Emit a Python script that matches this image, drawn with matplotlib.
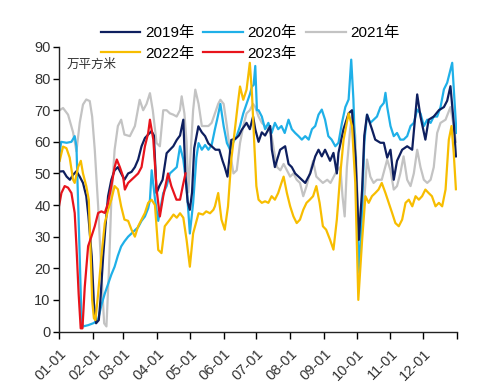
import numpy as np
import pandas as pd
import matplotlib
matplotlib.use("Agg")
import matplotlib.pyplot as plt
from matplotlib.transforms import ScaledTranslation

plt.rcParams['font.family'] = ['Liberation Sans', 'Noto Sans CJK SC', 'DejaVu Sans']

# ---- data (day of year, value in 万平方米) ----
days_2019 = [0, 4, 7, 10, 13, 16, 19, 22, 25, 27, 30, 32, 34, 36.5, 38, 40.5, 42.6, 45, 48, 51, 54, 57, 60, 63.4, 66.5, 69.6, 72.6, 75.7, 78.8, 81.8, 84.9, 87,
             89.5, 92, 95, 98.7, 101.7, 104.8, 108, 111, 114, 116, 118, 120, 122, 124, 127.8, 131, 134, 137, 140, 143.5, 147, 150, 152, 154.5, 158, 162, 165, 167.6, 172, 175, 178, 180,
             183, 186, 189, 193.7, 195.2, 198, 202.8, 207.4, 210.5, 213.5, 216.6, 222.7, 225.8, 230.4, 235, 238, 241, 244, 248.6, 251.7, 254.8, 256.3, 260.9, 265.6, 268.7,
             272, 275, 278, 280, 282.5, 287, 290, 294.8, 297.9, 301, 304, 307, 310, 314.7, 319.3, 323.9, 328.5, 331.5, 336, 339, 343.7, 348.4, 353, 356, 359, 362, 364]
vals_2019 = [50.6, 50.7, 49, 48, 49.6, 50.7, 49, 47, 42.8, 36.4, 23.8, 9, 2.6, 3.6, 10, 23.8, 33.3, 42.8, 48, 51, 52, 50, 48, 50, 50.5, 52, 54.4, 58.6, 61.2, 62.3, 63.4, 62,
             43.8, 46, 48, 56.4, 57.5, 58.6, 60.6, 62, 67, 49, 41, 38.5, 44, 58, 64.9, 63, 61.8, 59.5, 58.6, 57.5, 57.5, 54, 52, 49, 60.6, 61, 62, 63.8, 66, 64, 68, 64,
             60, 63, 62, 65, 57.5, 52, 57.5, 58.6, 53, 52, 50, 48, 47, 50, 55.4, 57.5, 55.4, 57.5, 54, 56.5, 50, 56.5, 64, 69, 70,
             55, 29, 45, 62, 68.6, 64, 60.7, 59.7, 59.7, 55, 57.5, 48, 54, 57.5, 58.6, 57.5, 75, 68, 60.7, 67, 68, 70, 71, 73, 77.6, 66, 55.4]

days_2020 = [0, 2, 7, 11.4, 14.4, 16, 17.5, 19, 20.6, 22, 26.7, 31.3, 34.3, 36, 39, 42, 45, 48, 51, 54, 57, 60, 63.4, 66.5, 69.6, 72.6, 75.7, 78.8, 81.8, 83.4, 85, 88,
             91, 95.6, 98.7, 101.7, 104.8, 108, 111, 114, 117, 120, 123, 126, 128, 131, 134, 137, 140, 143, 145, 148, 151, 154, 157, 160, 163, 166, 169, 172, 175, 177, 178.5, 180, 181.5,
             183, 186, 189, 192, 195, 198, 201, 204, 207, 210.5, 213.5, 216.6, 219.7, 222.7, 225.8, 229, 232, 235, 238, 241, 244, 247, 250, 253.4, 256.3, 259.5, 262.6, 265.6, 268, 270,
             271.7, 273.5, 275.5, 278, 280, 282.5, 285.5, 288.5, 291.6, 294.8, 297.9, 299.4, 301, 304, 307, 310, 313, 316, 319.3, 322.4, 325.4, 328.5, 331.5, 334.6, 337.7, 340.8, 343.7, 346.8, 349.9, 353, 356, 360.6, 363, 364.5]
vals_2020 = [55, 60, 59.7, 60, 61.8, 58.6, 41.7, 23.8, 3.7, 1.6, 2, 2.6, 3.2, 4, 8.5, 12, 15, 18, 20.5, 24, 26.9, 28.5, 30, 31, 32, 33, 35, 36.4, 39, 41.7, 51, 42,
             35, 43.8, 46, 50, 51, 52, 58.6, 54.4, 46, 31, 40.6, 55, 59.6, 57.5, 59, 57.5, 59, 64, 67, 72, 65, 59.6, 57.5, 60, 61.8, 65, 69, 72, 75, 77.5, 78, 84, 70,
             70, 68, 64, 66, 62.8, 66, 64, 65, 62.8, 67, 64, 62.8, 61.8, 60.7, 61.8, 60.7, 64, 65, 68.6, 70.2, 67, 61.8, 60.7, 58.6, 59.7, 66, 71, 73.4, 86, 73.4,
             55, 35, 18.5, 40, 60, 68.6, 66, 67, 68, 71, 72.3, 75.5, 71, 65, 61.8, 62.8, 60.7, 60.7, 61.8, 65, 66, 70.2, 69, 65, 67, 66, 68, 68, 71, 76.6, 78.7, 85, 71, 62.8]

days_2021 = [0.6, 3.7, 8.3, 12.9, 16, 19, 22, 25, 28.2, 30.4, 32.8, 35.9, 38.9, 41.4, 43.5, 45.7, 48, 51, 54, 57, 60, 65, 69.6, 74, 77.2, 80.3, 83.4, 86, 89.5,
             92.5, 95.6, 98.7, 101.7, 104.8, 107.9, 110.9, 112.5, 115, 117, 118.6, 120.5, 123, 125, 128, 131, 134, 137, 140, 143, 146, 148, 151, 154, 157, 160, 163, 166, 169, 172, 175, 178, 180,
             183, 186, 189, 192, 195, 197, 200, 203, 206, 209, 212, 215, 218, 221, 224, 227, 230, 233, 236, 239, 242, 246, 249, 252, 255, 258, 260, 262, 264, 267, 269,
             271.7, 274, 277, 280, 282.5, 285.5, 288.5, 291.6, 296, 301, 304, 307, 310, 313, 316, 319.3, 322.4, 325.4, 328.5, 331.5, 334.6, 337.7, 340.8, 343.7, 346.8, 349.9, 354.5, 359, 362, 364]
vals_2021 = [70, 70.7, 68.6, 63, 57, 66, 71.8, 73.4, 72.9, 68, 57.5, 39.6, 18.5, 2.6, 1.6, 18.5, 41.7, 57.5, 65, 67, 62.3, 61.8, 65, 73.3, 70, 72, 75.4, 70, 59.6,
             58.6, 70, 70, 69, 68.6, 68, 70, 74.4, 69, 60, 44, 55, 70, 76.5, 72, 65, 65, 65, 66, 69, 72, 73.3, 72, 65, 56.4, 50, 51, 59.6, 65, 69, 70, 72, 71,
             68, 66, 65, 64, 62, 57.5, 52, 51, 53, 51, 49, 50, 48, 47, 42.8, 46, 50, 54, 49, 48, 47, 48, 47, 49, 51, 52, 42.8, 36.4, 52, 64, 69,
             62, 40, 28, 42, 54.4, 49, 47, 48, 48, 54.4, 51, 44.9, 46, 50, 55.4, 48, 46, 50, 57.5, 52, 48, 47, 48, 52, 62.8, 66, 67, 71, 65, 60]

days_2022 = [0.6, 3.7, 6.8, 9.8, 12.9, 14.4, 17.5, 20, 22, 25, 27.3, 28.8, 30.4, 32, 33.4, 35.9, 38.9, 42, 45, 48, 51, 54, 57, 60, 63.4, 66.5, 69.6, 72.6, 75.7, 78.8, 81.8, 84.9, 88,
             91, 94, 97, 101.7, 105, 108, 111, 114, 117, 120, 123, 128, 132, 135, 138.5, 141.6, 143, 146, 149, 152, 155, 158, 161, 164, 166, 169, 172, 175, 177, 179, 181,
             183, 186, 189, 192, 195, 198, 201, 204, 206, 209, 212, 215, 218, 221, 224, 227, 230, 233, 236, 239, 242, 245, 248.6, 251.7, 254.8, 258, 261, 265.6, 268.7, 271.7,
             274.5, 278, 281, 284, 287, 290, 293, 296, 299.4, 302.4, 305.5, 308.5, 311.6, 314.7, 317.8, 320.8, 324, 327, 330, 333, 336, 339, 342, 345.3, 348.4, 351.4, 354.5, 357.5, 360, 362, 364]
vals_2022 = [54, 58.5, 58, 55, 48, 47, 52, 54, 50, 46, 41.7, 27, 10, 4.2, 3.6, 12, 23.8, 34.3, 38.5, 41.7, 46, 45, 39.6, 35.4, 35, 32.2, 30, 33.3, 35.4, 37.5, 40.7, 41.7, 40,
             25.8, 24.8, 33.3, 35.4, 37, 36, 37.4, 36, 29, 20.5, 31, 37.4, 37, 38, 37.4, 38.5, 39.6, 43.8, 35.4, 32.2, 39.6, 54.4, 63, 72, 77.5, 73.3, 76.5, 85, 75, 60, 46,
             41.7, 40.7, 41.2, 40.7, 42.8, 41.7, 43.8, 47, 49, 43.8, 39.6, 36.4, 34.3, 35.4, 38.5, 40.7, 41.7, 42.8, 46, 40.7, 33.3, 32.2, 29, 25.9, 35.4, 50, 60.7, 69, 65, 47,
             10, 29, 42.8, 40.7, 42.8, 43.8, 44.9, 47, 43.8, 40.7, 37.5, 34.3, 33.3, 35.4, 40.7, 41.7, 39.6, 42.8, 41.7, 42.8, 44.9, 43.8, 42.8, 39.6, 40.7, 39.6, 44.9, 60.7, 65, 56.5, 45]

days_2023 = [0, 2.2, 5.2, 8.3, 11.4, 14.4, 16, 18, 19.9, 21.5, 23.6, 26.7, 29.7, 32.8, 35.9, 38.9, 42, 45, 48, 51, 53, 55.8, 58.8, 60.4, 63.4, 66.5, 69.6, 72.6, 75.7, 78.8, 81.8, 83.4, 86.5, 89.5, 92.5,
             95.6, 100, 103, 107.7, 111, 113.5, 116]
vals_2023 = [39.6, 43.8, 46, 45.5, 43.8, 37.5, 27, 12, 1, 1, 14, 27, 30, 33.3, 37.5, 38, 37.5, 40.7, 46, 52, 54.4, 52, 49, 44.9, 47, 48, 49, 50, 52, 58.6, 62.8, 67, 60.7, 44.9, 36.4,
             42.8, 50, 46, 41.7, 41.7, 46, 50]

month_ticks = ['01-01', '02-01', '03-01', '04-01', '05-01', '06-01',
               '07-01', '08-01', '09-01', '10-01', '11-01', '12-01']

series = [
    ('2021年', days_2021, vals_2021, '#c3c3c3'),
    ('2020年', days_2020, vals_2020, '#1fb0e8'),
    ('2019年', days_2019, vals_2019, '#0e1f5f'),
    ('2022年', days_2022, vals_2022, '#f7bd00'),
    ('2023年', days_2023, vals_2023, '#e8141c'),
]

fig = plt.figure(figsize=(4.78, 3.85), dpi=100)
ax = fig.add_axes([59 / 478, 1 - 331.5 / 385, (457 - 59) / 478, (331.5 - 47) / 385])

handles = {}
for name, d, v, c in series:
    ln, = ax.plot(d, v, color=c, lw=1.6, label=name, solid_joinstyle='round')
    handles[name] = ln

tick_pos = [pd.Timestamp('2021-' + m).dayofyear - 1 for m in month_ticks]
ax.set_xlim(0, 365)
ax.set_ylim(0, 90)
ax.set_xticks(tick_pos + [365])
ax.set_xticklabels(month_ticks + [''], rotation=45, ha='right', va='top',
                   rotation_mode='anchor', fontsize=10.5, color='#333333')
offset = ScaledTranslation(4 / 100, 0, fig.dpi_scale_trans)
for lbl in ax.get_xticklabels():
    lbl.set_transform(lbl.get_transform() + offset)
ax.set_yticks(np.arange(0, 91, 10))
ax.tick_params(axis='y', labelsize=10.5, labelcolor='#333333', length=4, width=1, pad=2)
ax.tick_params(axis='x', length=5, width=1, pad=6)
for s in ['top', 'right']:
    ax.spines[s].set_visible(False)
for s in ['left', 'bottom']:
    ax.spines[s].set_linewidth(1)
    ax.spines[s].set_color('#222222')

ax.text(0.02, 0.94, '万平方米', transform=ax.transAxes, fontsize=9,
        family=['Noto Sans CJK SC'], color='#333333', va='center', ha='left')

# column-major fill -> rows: 2019 2020 2021 / 2022 2023
order = ['2019年', '2022年', '2020年', '2023年', '2021年']
fig.legend([handles[k] for k in order], order, loc='center',
           bbox_to_anchor=(250 / 478, 1 - 43.5 / 385), ncol=3, frameon=False,
           fontsize=11, handlelength=2.6, handletextpad=0.3, columnspacing=0.6,
           labelspacing=0.4, borderpad=0.1)

fig.savefig('out.png', dpi=100)
